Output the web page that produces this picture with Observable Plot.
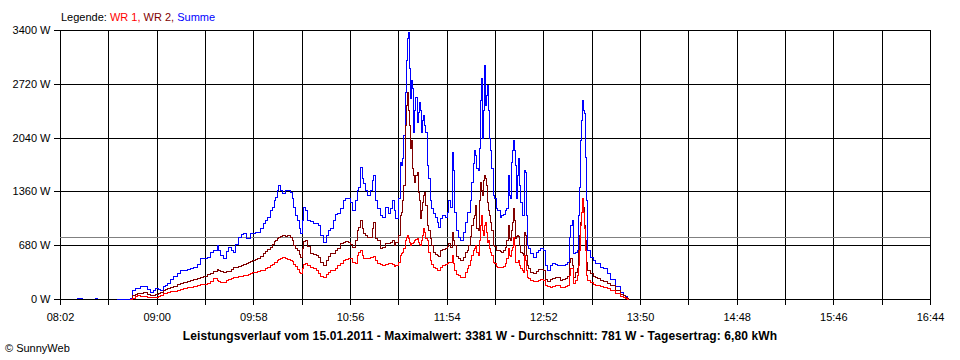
<!DOCTYPE html>
<html>
<head>
<meta charset="utf-8">
<script src="https://cdn.jsdelivr.net/npm/d3@7"></script>
<script src="https://cdn.jsdelivr.net/npm/@observablehq/plot@0.6"></script>
<style>
  html, body { margin: 0; padding: 0; background: #fff; }
  #wrap { position: relative; width: 960px; height: 360px; overflow: hidden; font-family: "Liberation Sans", Arial, sans-serif; }
  #chart { position: absolute; left: 0; top: 0; }
  #chart svg path, #chart svg line { shape-rendering: crispEdges; }
  .txt { position: absolute; white-space: nowrap; line-height: 1; color: #000; }
  #legend { left: 61px; top: 12px; font-size: 11px; }
  #caption { left: 0; width: 960px; text-align: center; top: 330px; font-size: 12px; font-weight: bold; letter-spacing: 0.12px; }
  #copy { left: 5px; top: 343px; font-size: 11px; }
</style>
</head>
<body>
<div id="wrap">
  <div id="chart"></div>
  <div id="legend" class="txt"></div>
  <div id="caption" class="txt"></div>
  <div id="copy" class="txt"></div>
</div>
<script>
const legendLabel = "Legende:";
const seriesNames = ["WR 1", "WR 2", "Summe"];
const seriesColors = ["#ff0000", "#800000", "#0000ff"];
const captionText = "Leistungsverlauf vom 15.01.2011 - Maximalwert: 3381 W - Durchschnitt: 781 W - Tagesertrag: 6,80 kWh";
const copyText = "© SunnyWeb";
const xTickLabels = ["08:02","09:00","09:58","10:56","11:54","12:52","13:50","14:48","15:46","16:44"];
const yTicks = [0, 680, 1360, 2040, 2720, 3400];
const average = 781;

const times = ["08:12:12","08:15:12","08:17:36","08:23:00","08:24:12","08:26:00","08:36:12","08:42:12","08:44:00","08:45:12","08:47:00","08:48:12","08:50:00","08:51:48","08:54:12","08:56:00","08:57:48","08:59:00","09:00:48","09:02:00","09:03:48","09:05:00","09:06:12","09:08:00","09:09:48","09:12:12","09:14:00","09:15:48","09:18:12","09:20:00","09:21:48","09:24:12","09:26:00","09:27:48","09:30:12","09:32:00","09:33:48","09:36:12","09:36:48","09:38:00","09:39:48","09:41:36","09:42:48","09:44:36","09:45:48","09:47:00","09:48:48","09:50:36","09:51:48","09:53:36","09:54:48","09:56:00","09:57:12","09:59:00","10:00:12","10:02:00","10:03:48","10:05:00","10:06:12","10:08:00","10:09:12","10:10:24","10:11:00","10:12:12","10:12:48","10:14:00","10:15:12","10:17:00","10:18:12","10:20:00","10:21:12","10:21:48","10:23:00","10:24:12","10:25:24","10:26:00","10:27:12","10:27:48","10:29:00","10:30:12","10:32:00","10:33:48","10:35:36","10:36:48","10:38:00","10:39:48","10:41:36","10:42:48","10:44:00","10:45:48","10:47:00","10:48:12","10:50:00","10:51:48","10:53:00","10:54:48","10:56:00","10:57:12","10:59:00","11:00:12","11:00:48","11:02:00","11:03:12","11:03:48","11:05:00","11:06:12","11:08:00","11:09:12","11:09:48","11:11:00","11:12:12","11:14:00","11:15:12","11:17:00","11:18:48","11:20:00","11:21:12","11:22:24","11:23:00","11:24:48","11:26:00","11:26:36","11:27:12","11:27:48","11:29:00","11:29:36","11:30:12","11:30:48","11:31:24","11:32:00","11:32:36","11:33:12","11:33:48","11:34:24","11:35:00","11:36:12","11:36:48","11:37:24","11:38:00","11:38:36","11:39:12","11:39:48","11:40:24","11:41:00","11:42:12","11:42:48","11:44:00","11:44:36","11:45:48","11:47:00","11:48:12","11:48:48","11:50:00","11:51:12","11:53:00","11:54:12","11:54:48","11:56:00","11:57:12","11:57:48","11:58:24","11:59:36","12:00:48","12:02:00","12:03:48","12:05:00","12:06:12","12:06:48","12:08:00","12:08:36","12:09:48","12:10:24","12:11:00","12:11:36","12:12:48","12:13:24","12:14:00","12:14:36","12:15:12","12:15:48","12:16:24","12:17:00","12:17:36","12:18:12","12:18:48","12:19:24","12:20:00","12:20:36","12:21:48","12:22:24","12:23:36","12:24:12","12:26:00","12:26:36","12:27:48","12:29:00","12:29:36","12:30:48","12:31:24","12:32:00","12:32:36","12:33:12","12:33:48","12:34:24","12:35:00","12:35:36","12:36:12","12:36:48","12:37:24","12:38:00","12:39:12","12:39:48","12:40:24","12:41:00","12:41:36","12:42:12","12:42:48","12:44:00","12:45:48","12:47:36","12:48:48","12:50:00","12:51:48","12:53:00","12:54:12","12:56:00","12:57:12","12:59:00","13:00:12","13:02:00","13:03:12","13:05:00","13:06:12","13:07:24","13:08:00","13:09:12","13:09:48","13:11:00","13:12:12","13:12:48","13:13:24","13:14:00","13:14:36","13:15:12","13:15:48","13:16:24","13:17:00","13:17:36","13:18:12","13:20:00","13:21:48","13:23:00","13:24:12","13:26:00","13:27:48","13:30:12","13:32:00","13:35:00","13:38:00","13:39:48","13:41:00","13:42:12","13:42:48"];

const summe = [10,10,null,10,10,null,0,0,13,114,139,139,164,164,126,88,114,139,126,114,164,177,202,253,291,329,367,367,379,392,404,442,518,518,531,594,619,683,619,556,518,607,657,619,594,695,784,822,834,771,771,834,834,847,847,897,961,999,1036,1125,1163,1251,1289,1378,1441,1378,1340,1378,1378,1352,1277,1163,1062,999,897,834,999,1163,1125,999,986,961,961,935,809,720,809,872,897,999,1074,1087,1150,1251,1277,1277,1226,1125,1251,1378,1416,1668,1529,1466,1378,1315,1378,1504,1567,1251,1150,1062,1036,1163,1087,1150,1251,1125,1024,1277,1732,1694,1782,2073,2616,3021,3299,3375,2920,2541,2768,2667,2111,2389,2553,2237,2364,2490,2389,2111,2263,2326,2199,2111,1694,1529,1251,1150,1087,1036,973,910,1024,1062,1036,1100,1251,1163,1858,1631,1100,872,784,746,847,973,1100,1100,1251,1479,1719,1883,1820,1656,1631,1909,2515,2793,2035,2389,2958,2452,2579,2705,2389,2035,1883,1656,1315,1277,1150,1125,1036,1062,1074,1125,1150,1567,1315,1277,1732,1883,2010,1883,1694,1277,1567,1782,1441,1226,1062,1062,1631,1605,1062,683,645,581,531,594,619,645,619,430,367,430,455,442,430,430,430,442,468,784,935,999,581,594,619,1062,1416,2010,2263,2515,2389,2351,1795,1251,619,531,493,455,455,404,392,329,253,164,88,51,38,0,0];

const wr2 = [null,null,null,null,null,null,null,null,0,51,63,76,76,88,63,51,51,63,76,88,114,126,139,152,164,190,202,215,228,240,253,265,278,291,316,329,354,379,367,354,341,354,354,379,404,404,417,430,442,455,468,480,493,506,518,544,581,607,632,657,695,733,746,771,784,796,809,796,809,784,746,683,645,619,569,531,645,733,746,670,581,569,556,531,468,430,493,544,581,581,619,645,708,720,733,720,695,657,746,872,910,999,897,834,809,784,784,897,973,771,746,645,657,708,708,720,746,683,720,809,1062,1100,1251,1441,2199,2452,2616,2389,2199,1909,2010,1656,1567,1479,1567,1605,1352,1251,1024,1125,1226,1315,1352,1188,935,872,771,683,594,569,556,544,619,632,645,670,708,657,847,746,683,544,518,493,531,594,619,683,796,935,1024,1062,1188,897,872,1251,1479,1378,1315,1504,1567,1529,1441,1226,1125,1062,973,872,683,670,619,619,607,594,619,657,746,935,771,746,872,973,1150,999,771,796,809,796,683,594,581,556,847,809,556,430,392,341,329,354,379,379,367,253,228,253,265,278,278,240,253,265,291,468,518,430,278,341,392,619,809,973,1100,1213,1163,935,746,468,367,329,291,278,265,240,228,202,177,114,63,51,25,13,0];

const wr1 = [null,null,null,null,null,null,null,null,0,13,38,51,38,38,25,25,25,25,38,51,76,76,88,101,101,114,126,139,152,152,164,177,190,190,202,228,265,240,228,215,215,240,253,265,278,278,291,291,303,303,316,329,341,341,354,367,367,392,404,430,442,468,468,493,506,518,531,518,506,493,480,442,417,379,341,329,392,442,455,430,404,392,367,329,291,278,316,341,367,367,392,430,455,493,506,518,518,468,455,556,594,619,556,518,518,518,531,531,544,493,455,442,430,442,455,455,442,417,430,468,556,581,594,645,746,784,809,771,720,683,708,708,720,746,758,771,720,695,683,746,809,897,847,771,746,594,493,442,404,392,367,367,404,430,442,455,468,468,556,455,367,316,303,278,278,341,392,430,493,556,619,645,683,594,556,746,935,1062,872,809,935,973,847,720,746,645,594,556,468,455,417,404,404,404,417,455,518,645,556,544,619,657,784,683,468,468,468,493,430,392,367,341,556,493,367,278,265,240,228,228,240,253,240,177,164,152,164,177,177,152,152,164,177,303,392,392,202,240,303,430,619,935,1100,1277,1100,897,619,303,240,215,190,177,177,164,152,139,114,76,38,25,13,0,0];

const toMin = s => { const p = s.split(":").map(Number); return p[0] * 60 + p[1] + (p[2] || 0) / 60; };
const rows = times.map((t, i) => ({ t: toMin(t), wr1: wr1[i], wr2: wr2[i], summe: summe[i] }));

const labelMins = xTickLabels.map(toMin);
const step = (labelMins[1] - labelMins[0]) / 2;
const gridMins = d3.range(labelMins[0], labelMins[labelMins.length - 1] + 1, step);
const fmtX = m => { const k = labelMins.indexOf(m); return k >= 0 ? xTickLabels[k] : ""; };

const chart = Plot.plot({
  width: 960,
  height: 360,
  marginLeft: 60,
  marginRight: 30,
  marginTop: 30,
  marginBottom: 61,
  style: { fontFamily: "'Liberation Sans', Arial, sans-serif", fontSize: "11px", color: "#000", background: "#fff", overflow: "visible" },
  x: { domain: [labelMins[0], labelMins[labelMins.length - 1]], label: null },
  y: { domain: [0, 3400], label: null },
  marks: [
    Plot.gridX(gridMins, { stroke: "#000", strokeOpacity: 1, strokeWidth: 1 }),
    Plot.gridY(yTicks, { stroke: "#000", strokeOpacity: 1, strokeWidth: 1 }),
    Plot.ruleY([average], { stroke: "#808080", strokeWidth: 1 }),
    Plot.line(rows, { x: "t", y: "summe", stroke: seriesColors[2], strokeWidth: 1, curve: "step-after" }),
    Plot.line(rows, { x: "t", y: "wr2", stroke: seriesColors[1], strokeWidth: 1, curve: "step-after" }),
    Plot.line(rows, { x: "t", y: "wr1", stroke: seriesColors[0], strokeWidth: 1, curve: "step-after" }),
    Plot.axisX(gridMins, { tickSize: 6, tickPadding: 8, tickFormat: fmtX, fill: "#000" }),
    Plot.axisY(yTicks, { tickSize: 6, tickPadding: 4, tickFormat: d => `${d} W`, fill: "#000" })
  ]
});
document.getElementById("chart").appendChild(chart);

const legend = document.getElementById("legend");
legend.innerHTML = `${legendLabel} ` + seriesNames.map((n, i) =>
  `<span style="color:${seriesColors[i]}">${n}${i < seriesNames.length - 1 ? "," : ""}</span>`).join(" ");
document.getElementById("caption").textContent = captionText;
document.getElementById("copy").textContent = copyText;
</script>
</body>
</html>
